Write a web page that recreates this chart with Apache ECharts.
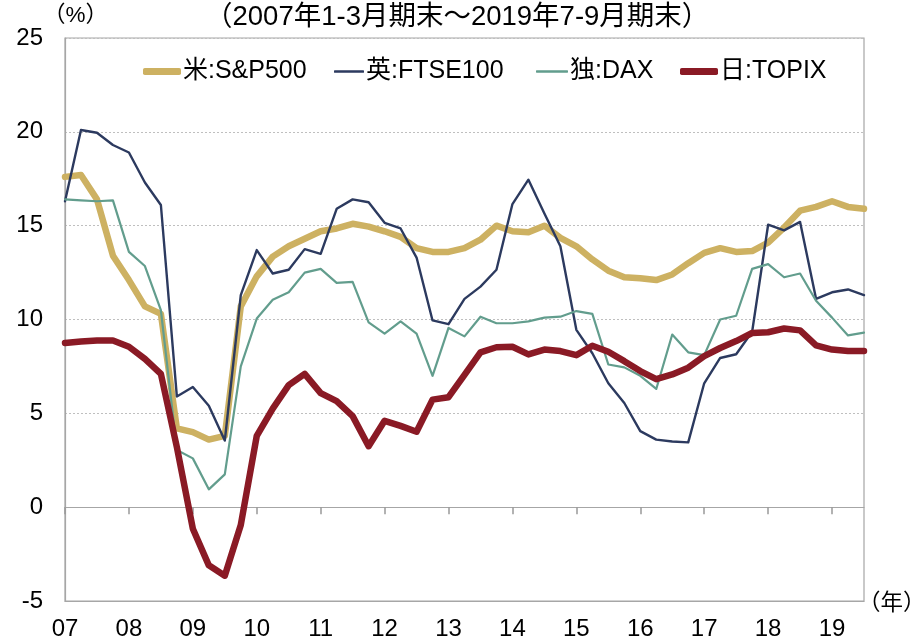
<!DOCTYPE html>
<html>
<head>
<meta charset="utf-8">
<script src="https://cdn.jsdelivr.net/npm/echarts@6/dist/echarts.min.js"></script>
<style>
  html, body { margin: 0; padding: 0; background: #ffffff; }
  #chart { width: 914px; height: 641px; }
</style>
</head>
<body>
<div id="chart"></div>
<script>
// Quarterly, 2007 Q1 .. 2019 Q3 (51 points)
const years = ['07','08','09','10','11','12','13','14','15','16','17','18','19'];
const categories = [];
for (let y = 2007; y <= 2019; y++) {
  for (let q = 1; q <= 4; q++) {
    if (y === 2019 && q > 3) break;
    categories.push(y + 'Q' + q);
  }
}
const yTicks = [-5, 0, 5, 10, 15, 20, 25];

const sp500 = [17.6,17.7,16.4,13.4,12.1,10.7,10.3,4.2,4.0,3.6,3.8,10.7,12.3,13.35,13.9,14.3,14.7,14.85,15.1,14.95,14.7,14.4,13.8,13.6,13.6,13.8,14.25,15.0,14.7,14.65,15.0,14.35,13.9,13.2,12.6,12.25,12.2,12.1,12.4,13.0,13.55,13.8,13.6,13.65,14.1,14.9,15.8,16.0,16.3,16.0,15.9];
const ftse100 = [16.3,20.1,19.95,19.3,18.9,17.3,16.1,5.9,6.4,5.4,3.55,11.3,13.7,12.45,12.65,13.75,13.5,15.9,16.4,16.25,15.15,14.85,13.3,9.95,9.75,11.1,11.75,12.65,16.15,17.45,15.65,13.9,9.45,8.2,6.6,5.55,4.05,3.6,3.5,3.45,6.6,7.95,8.15,9.35,15.05,14.75,15.2,11.1,11.45,11.6,11.3];
const dax = [16.4,16.35,16.3,16.35,13.6,12.85,10.5,3.05,2.6,0.95,1.75,7.5,10.05,11.05,11.45,12.5,12.7,11.95,12.0,9.85,9.25,9.9,9.25,7.0,9.55,9.1,10.15,9.8,9.8,9.9,10.1,10.15,10.45,10.3,7.6,7.45,7.0,6.3,9.2,8.25,8.1,10.0,10.2,12.7,12.95,12.25,12.45,11.0,10.1,9.15,9.3];
const topix = [8.75,8.83,8.88,8.88,8.55,7.9,7.1,3.2,-1.15,-3.1,-3.65,-0.95,3.8,5.25,6.5,7.1,6.08,5.65,4.85,3.25,4.6,4.33,4.02,5.73,5.86,7.05,8.25,8.52,8.55,8.14,8.4,8.32,8.1,8.6,8.28,7.78,7.25,6.82,7.07,7.43,8.05,8.48,8.85,9.28,9.32,9.52,9.42,8.62,8.4,8.32,8.32];

const seriesNames = ['米:S&P500', '英:FTSE100', '独:DAX', '日:TOPIX'];
const seriesColors = ['#CDB162', '#2C3A5F', '#629D8D', '#8A1A25'];
const seriesWidths = [6.5, 2.4, 2.2, 6.5];
const seriesData = [sp500, ftse100, dax, topix];

const FONT = '"Liberation Sans", Arial, "Noto Sans CJK JP", sans-serif';

const chart = echarts.init(document.getElementById('chart'), null, { renderer: 'canvas' });

const legendLefts = [143, 334, 536, 680];
const legendWidths = [38, 30, 32, 38];
const legendHeights = [7, 2.6, 2.4, 7];

const legends = seriesNames.map((n, i) => ({
  show: true,
  type: 'plain',
  orient: 'horizontal',
  data: [{ name: n, icon: 'roundRect', itemStyle: { color: seriesColors[i] } }],
  left: legendLefts[i],
  top: 59,
  itemWidth: legendWidths[i],
  itemHeight: legendHeights[i],
  itemGap: 0,
  padding: 0,
  textStyle: { fontSize: 25, color: '#000', fontFamily: FONT, padding: [0, 0, 0, -3] },
  selectedMode: false
}));

const option = {
  animation: false,
  backgroundColor: '#ffffff',
  legend: legends,
  grid: {
    left: 65, right: 50, top: 38, bottom: 39,
    show: true, borderColor: '#A6A6A6', borderWidth: 1.2, containLabel: false
  },
  graphic: [
    { type: 'text', left: 43, top: 5, style: { text: '（%）', fill: '#000', font: '22.5px ' + FONT } },
    { type: 'text', left: 205, top: 4, style: { text: '（2007年1-3月期末～2019年7-9月期末）', fill: '#000', font: '27.5px ' + FONT } },
    { type: 'text', left: 858, top: 593, style: { text: '（年）', fill: '#000', font: '22.5px ' + FONT } }
  ],
  xAxis: [
    {
      type: 'category', data: categories, boundaryGap: false, position: 'bottom',
      axisLine: { onZero: false, show: true, lineStyle: { color: '#A6A6A6', width: 1.2 } },
      axisTick: { show: false },
      axisLabel: {
        interval: 3, margin: 16, fontSize: 24, color: '#000', fontFamily: FONT,
        formatter: (v, idx) => years[Math.floor(idx / 4)]
      },
      splitLine: { show: false }
    },
    {
      type: 'category', data: categories, boundaryGap: false, position: 'bottom',
      axisLine: { onZero: true, show: true, lineStyle: { color: '#A6A6A6', width: 1.2 } },
      axisTick: { show: true, interval: 3, inside: false, length: 7, lineStyle: { color: '#999999', width: 1.5 } },
      axisLabel: { show: false },
      splitLine: { show: false }
    }
  ],
  yAxis: {
    type: 'value', min: yTicks[0], max: yTicks[yTicks.length - 1], interval: 5,
    axisLine: { show: true, lineStyle: { color: '#A6A6A6', width: 1.2 } },
    axisTick: { show: false },
    axisLabel: { fontSize: 24, color: '#000', fontFamily: FONT, margin: 22 },
    splitLine: { show: true, lineStyle: { color: '#BFBFBF', type: [2, 2], width: 1 } }
  },
  series: seriesNames.map((n, i) => ({
    name: n, type: 'line', data: seriesData[i], xAxisIndex: 0,
    symbol: 'none', smooth: false,
    lineStyle: { color: seriesColors[i], width: seriesWidths[i], join: 'round', cap: 'round' },
    itemStyle: { color: seriesColors[i] },
    z: i === 3 ? 5 : (i === 0 ? 2 : 3)
  }))
};

chart.setOption(option);
</script>
</body>
</html>
